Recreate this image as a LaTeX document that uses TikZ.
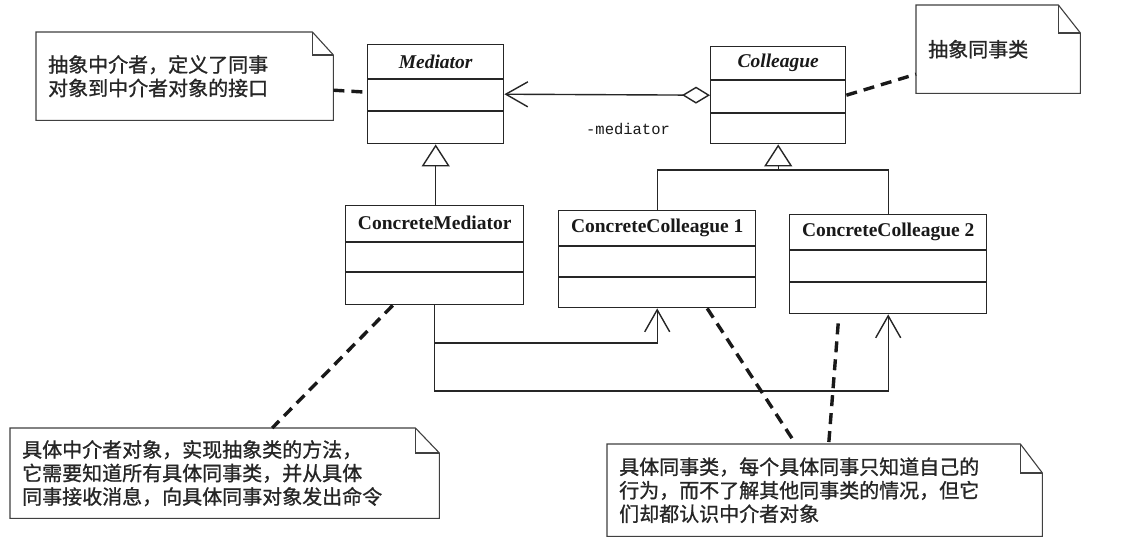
\documentclass[tikz,border=0pt]{standalone}
\usepackage{fontspec}
\setmainfont{Liberation Serif}
\setmonofont{Liberation Mono}
\newfontfamily\cjk[FakeBold=1]{Noto Sans CJK SC}
\usetikzlibrary{arrows.meta,calc}
\newcommand\drawnote[3]{%
  \draw[notepen] (#1.north west) -- ([xshift=-#2pt]#1.north east) -- ([yshift=-#3pt]#1.north east) -- (#1.south east) -- (#1.south west) -- cycle;
  \draw[notepen] ([xshift=-#2pt]#1.north east) |- ([yshift=-#3pt]#1.north east);}
\newcommand\clsdiv[3]{%
  \draw[clspen] ([yshift=-#2pt]#1.north west) -- ([yshift=-#2pt]#1.north east);
  \draw[clspen] ([yshift=-#3pt]#1.north west) -- ([yshift=-#3pt]#1.north east);}
\tikzset{
  clspen/.style={line width=1.4pt, draw=black!85},
  cls/.style={clspen, rectangle, anchor=north west, inner sep=0pt},
  clsname/.style={font=\bfseries\fontsize{19.5}{20}\selectfont, inner sep=0pt, text=black!90},
  notepen/.style={line width=1.1pt, draw=black!75},
  notenode/.style={anchor=north west, inner xsep=12pt, inner ysep=0pt, align=left,
    text=black!85, font=\cjk\fontsize{20}{23.5}\selectfont},
  notelink/.style={line width=3.4pt, dash pattern=on 11pt off 7pt, draw=black!90},
  gen/.style={clspen, -{Triangle[open, length=22pt, width=28pt]}},
  assoc/.style={clspen, -{Straight Barb[length=22pt, width=25pt]}},
}
\begin{document}
\begin{tikzpicture}[x=1pt, y=-1pt]
\useasboundingbox[fill=white] (0,0) rectangle (1143,542);

% classes
\node[cls, minimum width=136pt, minimum height=99pt] (med) at (367,44) {};
\clsdiv{med}{35}{67}
\node[clsname] (medt) at ([yshift=-18pt]med.north) {\textit{Mediator}};

\node[cls, minimum width=135pt, minimum height=97pt] (col) at (710,46) {};
\clsdiv{col}{34}{67}
\node[clsname] (colt) at ([yshift=-17pt]col.north) {\textit{Colleague}};

\node[cls, minimum width=178pt, minimum height=99pt] (cm) at (345,205) {};
\clsdiv{cm}{37}{67}
\node[clsname] (cmt) at ([yshift=-18pt]cm.north) {ConcreteMediator};

\node[cls, minimum width=197pt, minimum height=97pt] (cc1) at (558,210) {};
\clsdiv{cc1}{36}{67}
\node[clsname] (cc1t) at ([yshift=-18pt]cc1.north) {ConcreteColleague 1};

\node[cls, minimum width=197pt, minimum height=99pt] (cc2) at (789,214) {};
\clsdiv{cc2}{36}{68}
\node[clsname] (cc2t) at ([yshift=-18pt]cc2.north) {ConcreteColleague 2};

% aggregation
\draw[clspen, {Straight Barb[length=22pt, width=25pt]}-{Diamond[open, length=28pt, width=17pt]}] (med.east) -- (col.west);
\node[font=\ttfamily\fontsize{15.5}{15.5}\selectfont, inner sep=0pt, text=black!90] (lab) at (628,129) {-mediator};

% generalizations
\draw[gen] (med.south |- cm.north) -- (med.south);
\coordinate (bar) at (0,170);
\draw[clspen] (cc1.north) |- (cc2.north |- bar) -- (cc2.north);
\draw[gen] (col.south |- bar) -- (col.south);

% associations from ConcreteMediator
\coordinate (j1) at (0,343);
\coordinate (j2) at (0,391);
\draw[assoc] (cm.south) |- (cc1.south |- j1) -- (cc1.south);
\draw[assoc] (cm.south) |- (cc2.south |- j2) -- (cc2.south);

% notes
\node[notenode, text width=273pt, minimum height=88pt] (n1) at (36,32)
  {抽象中介者，定义了同事\\对象到中介者对象的接口};
\drawnote{n1}{21}{23}
\node[notenode, text width=140pt, minimum height=88pt] (n2) at (916,5)
  {抽象同事类};
\drawnote{n2}{22}{28}
\node[notenode, text width=405pt, minimum height=90pt] (n4) at (10,428)
  {具体中介者对象，实现抽象类的方法，\\它需要知道所有具体同事类，并从具体\\同事接收消息，向具体同事对象发出命令};
\drawnote{n4}{24}{25}
\node[notenode, text width=411pt, minimum height=92pt] (n5) at (607,444)
  {具体同事类，每个具体同事只知道自己的\\行为，而不了解其他同事类的情况，但它\\们却都认识中介者对象};
\drawnote{n5}{22}{29}

% note links
\draw[notelink] ([yshift=-14pt]n1.east) -- ([yshift=2pt]med.west);
\draw[notelink] (col.east) -- ([yshift=-25pt]n2.west);
\draw[notelink] ([xshift=-42pt]cm.south) -- ([xshift=47.5pt]n4.north);
\draw[notelink] ([xshift=50pt]cc1.south) -- ([xshift=-29pt]n5.north);
\draw[notelink] ([xshift=-50pt,yshift=-9pt]cc2.south) -- ([xshift=4pt]n5.north);
\end{tikzpicture}
\end{document}
